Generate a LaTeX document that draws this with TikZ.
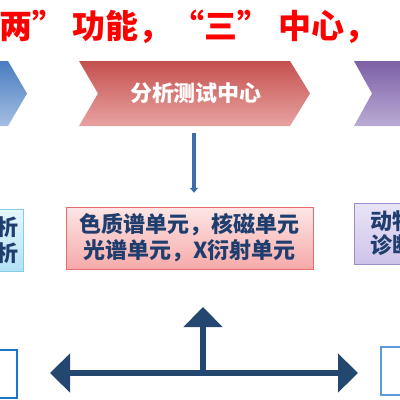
\documentclass[tikz,border=0pt]{standalone}
\usepackage{fontspec}
\newfontfamily\cjk{Noto Sans CJK SC}
\usetikzlibrary{arrows.meta}
\definecolor{titlered}{HTML}{FF0000}
\definecolor{bluetop}{HTML}{4A7CC0}
\definecolor{bluebot}{HTML}{A3BEE3}
\definecolor{redtop}{HTML}{C4504E}
\definecolor{redbot}{HTML}{E8A3A1}
\definecolor{purtop}{HTML}{7C60A6}
\definecolor{purbot}{HTML}{BAABD4}
\definecolor{darkblue}{HTML}{1F3E6E}
\definecolor{varrowc}{HTML}{3D6DAA}
\definecolor{navy}{HTML}{23476F}
\definecolor{pinktop}{HTML}{FDE6E6}
\definecolor{pinkbot}{HTML}{F6A9A9}
\definecolor{pinkline}{HTML}{E46C6C}
\definecolor{cyantop}{HTML}{E6F6FD}
\definecolor{cyanbot}{HTML}{B2E1F5}
\definecolor{cyanline}{HTML}{86CCE4}
\definecolor{lavtop}{HTML}{EAE4F6}
\definecolor{lavbot}{HTML}{CEC3EA}
\definecolor{lavline}{HTML}{9C8CCB}
\definecolor{outblue}{HTML}{1B74D0}
\definecolor{outblue2}{HTML}{5B9BD5}
\tikzset{
  boxtext/.style={font=\cjk\bfseries\fontsize{22}{26}\selectfont, text=darkblue},
  chevtext/.style={font=\cjk\bfseries\fontsize{22}{22}\selectfont, text=white},
  navyarrow/.style={draw=navy, line width=5.5pt},
  bigtip/.tip={Triangle[width=38pt,length=20pt]},
}
\begin{document}
\begin{tikzpicture}[x=1pt,y=-1pt]
\useasboundingbox (0,0) rectangle (400,400);
\clip (0,0) rectangle (400,400);
\fill[white] (0,0) rectangle (400,400);
% title
\node[font=\cjk\bfseries\fontsize{33}{33}\selectfont, text=titlered, anchor=base west, inner sep=0] (title) at (-1,38) {两” 功能，“三” 中心，};
% chevrons
\shade[top color=bluetop, bottom color=bluebot] (-40,61) -- (8,61) -- (27,93.5) -- (8,126) -- (-40,126) -- cycle;
\shade[top color=redtop, bottom color=redbot] (79,61) -- (290,61) -- (310,93.5) -- (290,126) -- (79,126) -- (98,93.5) -- cycle;
\shade[top color=purtop, bottom color=purbot] (354,61) -- (440,61) -- (440,126) -- (354,126) -- (372,93.5) -- cycle;
\node[chevtext, minimum width=231pt, minimum height=65pt, inner sep=0] (red) at (196,93.5) {分析测试中心};
% boxes
\node[boxtext, draw=pinkline, top color=pinktop, bottom color=pinkbot, minimum width=247pt, minimum height=62pt, align=center, inner sep=0] (mid) at (189.5,238) {色质谱单元，核磁单元\\光谱单元，X衍射单元};
\node[boxtext, draw=cyanline, top color=cyantop, bottom color=cyanbot, minimum height=62pt, align=right, inner xsep=4pt, inner ysep=0, anchor=east] (left) at (23,240) {分析\\分析};
\node[boxtext, font=\cjk\bfseries\fontsize{22}{24}\selectfont, draw=lavline, top color=lavtop, bottom color=lavbot, minimum height=61pt, align=left, inner xsep=16pt, inner ysep=0, anchor=west] (right) at (354,233.5) {动物\\诊断};
% vertical arrow
\draw[draw=varrowc, line width=4pt, -{Triangle[width=8pt,length=5pt]}] ([yshift=-7pt]red.south -| 194,0) -- ([yshift=14pt]mid.north -| 194,0);
% bottom boxes
\node[draw=outblue, line width=2pt, fill=white, minimum width=40pt, minimum height=48pt, anchor=east, inner sep=0] (bl) at (18,374) {};
\node[draw=outblue2, line width=2pt, fill=white, minimum width=40pt, minimum height=48pt, anchor=west, inner sep=0] (br) at (380,371) {};
% bottom arrows
\coordinate (L) at (50,373);
\coordinate (R) at (358,373);
\coordinate (J) at (203,373);
\coordinate (T) at (203,307);
\draw[navyarrow, bigtip-bigtip] (L) -- (R);
\draw[navyarrow, -bigtip] (J) -- (T);
\end{tikzpicture}
\end{document}
